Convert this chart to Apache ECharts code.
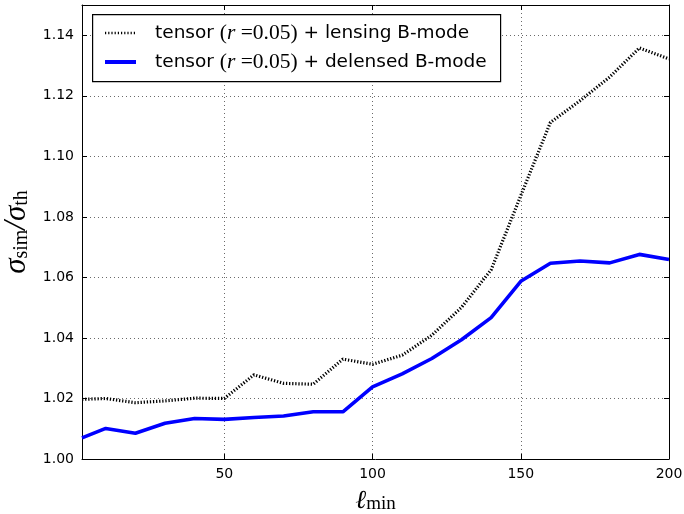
<!DOCTYPE html>
<html>
<head>
<meta charset="utf-8">
<script src="https://cdn.jsdelivr.net/npm/echarts@6/dist/echarts.min.js"></script>
<style>
html,body{margin:0;padding:0;background:#fff;}
#c{width:684px;height:514px;}
</style>
</head>
<body>
<div id="c"></div>
<script>
var ellMin = [2, 10, 20, 30, 40, 50, 60, 70, 80, 90, 100, 110, 120, 130, 140, 150, 160, 170, 180, 190, 200];
var lensing = [1.0197, 1.0200, 1.0186, 1.0192, 1.0201, 1.0200, 1.0278, 1.0250, 1.0247, 1.0330, 1.0313, 1.0343, 1.0409, 1.0501, 1.0625, 1.0870, 1.1112, 1.1184, 1.1262, 1.1358, 1.1322];
var delensed = [1.0070, 1.0101, 1.0085, 1.0118, 1.0134, 1.0131, 1.0137, 1.0142, 1.0156, 1.0156, 1.0238, 1.0281, 1.0332, 1.0394, 1.0467, 1.0587, 1.0647, 1.0654, 1.0648, 1.0676, 1.0659];
var yTicks = {min: 1.00, max: 1.15, step: 0.02};
var xTicks = {min: 2, max: 200};
var names = ['lensing', 'delensed'];
var legendText = {
  lensing: 'tensor {m|(}{i|r}{m| =0.05)} + lensing B-mode',
  delensed: 'tensor {m|(}{i|r}{m| =0.05)} + delensed B-mode'
};

function pairs(xs, ys) { return xs.map(function (x, i) { return [x, ys[i]]; }); }

var chart = echarts.init(document.getElementById('c'), null, {renderer: 'canvas'});
var sans = 'DejaVu Sans';
var tickStyle = {show: true, inside: true, length: 5, lineStyle: {color: '#000', width: 1}};
var axisLine = {show: true, onZero: false, lineStyle: {color: '#000', width: 1}};
var grid = {type: [1, 3], color: '#444', width: 0.8};

chart.setOption({
  animation: false,
  backgroundColor: '#fff',
  grid: {left: 82, right: 15, top: 5, bottom: 55, containLabel: false, outerBoundsMode: 'none'},
  graphic: [{
    type: 'rect', left: 92, top: 14, z: 100,
    shape: {width: 408, height: 67},
    style: {fill: '#fff', stroke: '#000', lineWidth: 1.2}
  }],
  legend: {
    data: [
      {name: names[0], lineStyle: {width: 2.6, type: [1.2, 2.0], color: '#000'}},
      {name: names[1], lineStyle: {width: 4, color: '#0000ff'}}
    ],
    orient: 'vertical',
    left: 103, top: 22,
    padding: 0,
    itemGap: 7,
    itemWidth: 31, itemHeight: 14,
    z: 110,
    itemStyle: {opacity: 0},
    formatter: function (n) { return legendText[n]; },
    textStyle: {
      fontFamily: sans, fontSize: 18.5, color: '#000', padding: [0, 0, 0, 14], lineHeight: 22,
      rich: {
        i: {fontFamily: 'Liberation Serif', fontStyle: 'italic', fontSize: 21.5, color: '#000', lineHeight: 22},
        m: {fontFamily: 'Liberation Serif', fontSize: 21.5, color: '#000', lineHeight: 22}
      }
    }
  },
  xAxis: [{
    type: 'value', min: xTicks.min, max: xTicks.max, splitNumber: 4,
    position: 'bottom',
    axisLine: axisLine, axisTick: tickStyle,
    axisLabel: {fontFamily: sans, fontSize: 14, color: '#000', margin: 8, showMinLabel: false},
    splitLine: {show: true, lineStyle: grid},
    name: '{l|ℓ}{s|min}', nameLocation: 'middle', nameGap: 24,
    nameTextStyle: {
      rich: {
        l: {fontFamily: 'DejaVu Serif', fontStyle: 'italic', fontSize: 26, color: '#000', verticalAlign: 'bottom'},
        s: {fontFamily: 'Liberation Serif', fontSize: 19, color: '#000', verticalAlign: 'bottom', padding: [12, 0, 0, 0]}
      }
    }
  }, {
    type: 'value', min: xTicks.min, max: xTicks.max, splitNumber: 4,
    position: 'top',
    axisLine: axisLine, axisTick: tickStyle,
    axisLabel: {show: false}, splitLine: {show: false}
  }],
  yAxis: [{
    type: 'value', min: yTicks.min, max: yTicks.max, interval: yTicks.step,
    axisLine: axisLine, axisTick: tickStyle,
    axisLabel: {fontFamily: sans, fontSize: 14, color: '#000', margin: 8, showMaxLabel: false,
      formatter: function (v) { return v.toFixed(2); }},
    splitLine: {show: true, lineStyle: grid},
    name: '{g|σ}{s|sim}{g|/σ}{s|th}', nameLocation: 'middle', nameGap: 45, nameRotate: 90,
    nameTextStyle: {
      rich: {
        g: {fontFamily: 'Liberation Serif', fontStyle: 'italic', fontSize: 31, color: '#000', verticalAlign: 'bottom'},
        s: {fontFamily: 'Liberation Serif', fontSize: 20, color: '#000', verticalAlign: 'bottom', padding: [13, 0, 0, 0]}
      }
    }
  }, {
    type: 'value', min: yTicks.min, max: yTicks.max, interval: yTicks.step,
    position: 'right',
    axisLine: axisLine, axisTick: tickStyle,
    axisLabel: {show: false}, splitLine: {show: false}
  }],
  series: [{
    name: 'lensing', type: 'line', data: pairs(ellMin, lensing),
    xAxisIndex: 0, yAxisIndex: 0,
    symbol: 'none', smooth: false,
    lineStyle: {color: '#000', width: 3.2, type: [1.3, 1.8], cap: 'butt'},
    itemStyle: {color: '#000'}, z: 3
  }, {
    name: 'delensed', type: 'line', data: pairs(ellMin, delensed),
    xAxisIndex: 0, yAxisIndex: 0,
    symbol: 'none', smooth: false,
    lineStyle: {color: '#0000ff', width: 3.6},
    itemStyle: {color: '#0000ff'}, z: 4
  }]
});
</script>
</body>
</html>
